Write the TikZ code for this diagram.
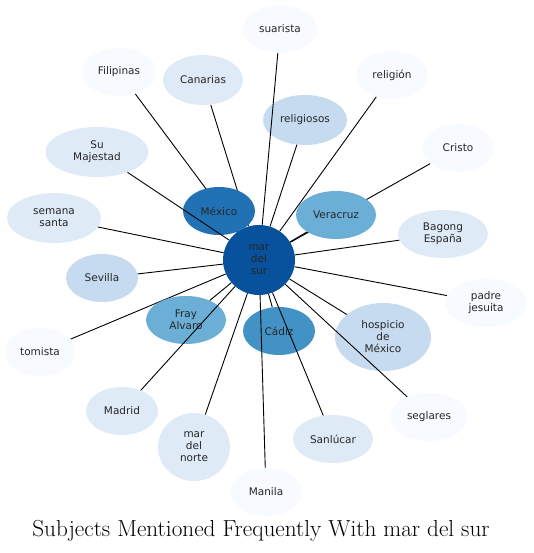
\documentclass[tikz,border=0pt]{standalone}
\usepackage{fontspec}
\usepackage{tikz}
\usetikzlibrary{shapes.geometric,backgrounds}
\newfontfamily\labelfont{DejaVu Sans}
\definecolor{blueone}{RGB}{247,251,255}
\definecolor{bluetwo}{RGB}{222,235,247}
\definecolor{bluethree}{RGB}{198,219,239}
\definecolor{bluefive}{RGB}{107,174,214}
\definecolor{bluesix}{RGB}{66,146,198}
\definecolor{blueseven}{RGB}{33,113,181}
\definecolor{blueeight}{RGB}{8,81,156}
\tikzset{
  subject/.style={ellipse,inner sep=0pt,align=center,text=black!85,
    font=\labelfont\fontsize{10.5}{12}\selectfont},
  link/.style={black,line width=0.9pt}
}
\newcommand{\subject}[7]{%
  \node[subject,minimum width=#4pt,minimum height=#5pt,fill=#6] (#1) at (#2,#3) {#7};
}

\begin{document}
\begin{tikzpicture}[x=1pt,y=-1pt]
    \useasboundingbox (0,0) rectangle (533,553);
    \subject{hub}{259}{260}{72}{70}{blueeight}{mar\\del\\sur}
    \subject{suarista}{280}{29}{75}{48}{blueone}{suarista}
    \subject{filipinas}{119}{72}{75}{48}{blueone}{Filipinas}
    \subject{canarias}{203}{80}{80}{50}{bluetwo}{Canarias}
    \subject{religiosos}{305}{120}{84}{50}{bluethree}{religiosos}
    \subject{religion}{392}{75}{72}{48}{blueone}{religión}
    \subject{cristo}{458}{148}{72}{48}{blueone}{Cristo}
    \subject{majestad}{97}{152}{103}{50}{bluetwo}{Su\\Majestad}
    \subject{semana}{54}{218}{94}{50}{bluetwo}{semana\\santa}
    \subject{mexico}{219}{211}{72}{48}{blueseven}{México}
    \subject{veracruz}{336}{215}{80}{48}{bluefive}{Veracruz}
    \subject{bagong}{443}{234}{90}{48}{bluetwo}{Bagong\\España}
    \subject{sevilla}{102}{278}{72}{48}{bluethree}{Sevilla}
    \subject{jesuita}{486}{303}{82}{48}{blueone}{padre\\jesuita}
    \subject{fray}{186}{320}{80}{48}{bluefive}{Fray\\Alvaro}
    \subject{cadiz}{279}{331}{72}{48}{bluesix}{Cádiz}
    \subject{hospicio}{383}{337}{96}{68}{bluethree}{hospicio\\de\\México}
    \subject{tomista}{40}{352}{72}{48}{blueone}{tomista}
    \subject{madrid}{122}{411}{72}{48}{bluetwo}{Madrid}
    \subject{norte}{194}{447}{72}{68}{bluetwo}{mar\\del\\norte}
    \subject{sanlucar}{333}{439}{80}{48}{bluetwo}{Sanlúcar}
    \subject{seglares}{429}{417}{78}{48}{blueone}{seglares}
    \subject{manila}{266}{492}{72}{48}{blueone}{Manila}
    % these links run under the nodes they cross
    \begin{pgfonlayer}{background}
      \foreach \n in {filipinas,canarias,cristo,tomista}
        \draw[link] (hub) -- (\n);
    \end{pgfonlayer}
    \foreach \n in {suarista,religiosos,religion,majestad,semana,mexico,
        veracruz,bagong,sevilla,jesuita,fray,cadiz,hospicio,madrid,norte,
        sanlucar,seglares,manila}
      \draw[link] (hub) -- (\n);
    \node[font=\fontsize{23.2}{26}\selectfont] (title) at (261,531)
      {Subjects Mentioned Frequently With mar del sur};
  \end{tikzpicture}
\end{document}
